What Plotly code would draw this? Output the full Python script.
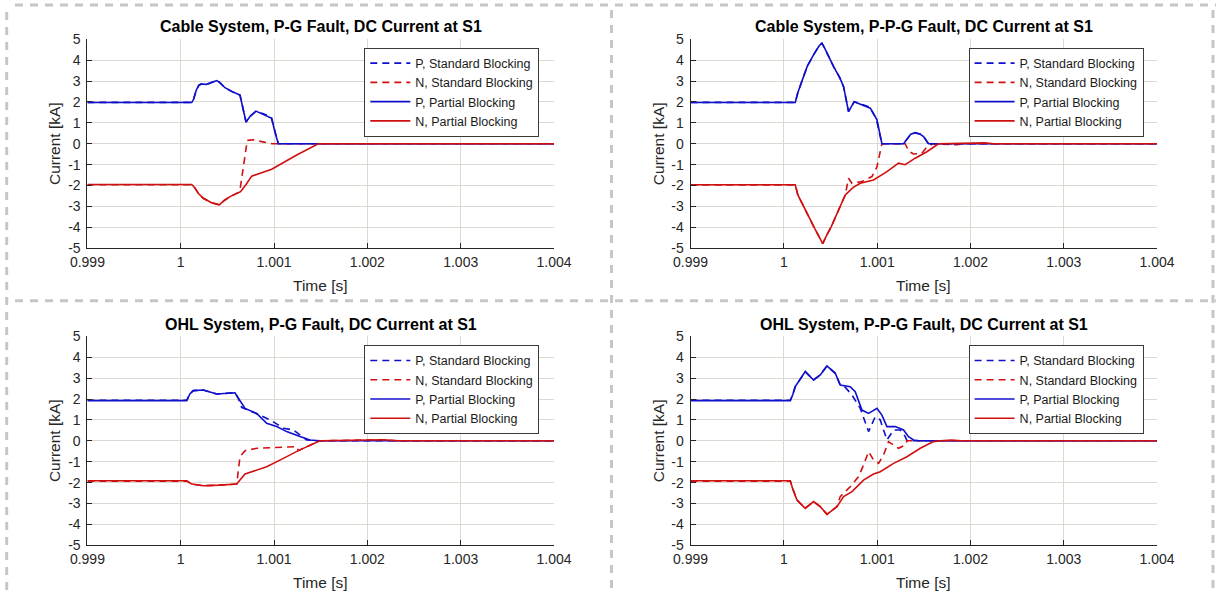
import plotly.graph_objects as go

W, H = 1216, 594

# ---------------- data ----------------
x_ticks = [0.999, 1.000, 1.001, 1.002, 1.003, 1.004]
x_tick_labels = ["0.999", "1", "1.001", "1.002", "1.003", "1.004"]
y_ticks = [-5, -4, -3, -2, -1, 0, 1, 2, 3, 4, 5]
y_tick_labels = ["-5", "-4", "-3", "-2", "-1", "0", "1", "2", "3", "4", "5"]

titles = ["Cable System, P-G Fault, DC Current at S1",
          "Cable System, P-P-G Fault, DC Current at S1",
          "OHL System, P-G Fault, DC Current at S1",
          "OHL System, P-P-G Fault, DC Current at S1"]
series_names = ["P, Standard Blocking", "N, Standard Blocking",
                "P, Partial Blocking", "N, Partial Blocking"]

# Panel 1: Cable, P-G
c1_p_part_t = [0.999, 1.000118, 1.000140, 1.000165, 1.000195, 1.000220, 1.000278, 1.000330, 1.000386,
               1.000420, 1.000474, 1.000560, 1.000635, 1.000700, 1.000750, 1.000806, 1.000885, 1.000975,
               1.001010, 1.001046, 1.004]
c1_p_part_i = [1.97, 1.97, 2.15, 2.55, 2.80, 2.86, 2.84, 2.93, 3.02, 2.92, 2.68, 2.47, 2.33, 1.04, 1.35,
               1.56, 1.40, 1.22, 0.55, 0.0, 0.0]
c1_p_std_t = [0.999, 1.000118, 1.000140, 1.000165, 1.000195, 1.000220, 1.000278, 1.000330, 1.000386,
              1.000420, 1.000474, 1.000560, 1.000635, 1.000700, 1.000750, 1.000800, 1.000880, 1.000970,
              1.001010, 1.001046, 1.004]
c1_p_std_i = [1.98, 1.98, 2.15, 2.55, 2.80, 2.86, 2.84, 2.93, 3.02, 2.92, 2.68, 2.47, 2.33, 1.04, 1.33,
              1.52, 1.45, 1.26, 0.55, 0.0, 0.0]
c1_n_part_t = [0.999, 1.000118, 1.000150, 1.000190, 1.000242, 1.000330, 1.000413, 1.000470, 1.000528,
               1.000642, 1.000700, 1.000760, 1.000975, 1.001243, 1.001474, 1.004]
c1_n_part_i = [-1.95, -1.95, -2.10, -2.38, -2.61, -2.82, -2.92, -2.70, -2.53, -2.29, -1.95, -1.55,
               -1.22, -0.54, 0.0, 0.0]
c1_n_std_t = [0.999, 1.000118, 1.000150, 1.000190, 1.000242, 1.000330, 1.000413, 1.000470, 1.000528,
              1.000632, 1.000713, 1.000780, 1.000880, 1.000980, 1.004]
c1_n_std_i = [-1.96, -1.96, -2.10, -2.38, -2.61, -2.82, -2.92, -2.70, -2.53, -2.30, 0.16, 0.19, 0.09,
              0.0, 0.0]

# Panel 2: Cable, P-P-G
c2_p_part_t = [0.999, 1.000122, 1.000150, 1.000194, 1.000250, 1.000318, 1.000380, 1.000408, 1.000440,
               1.000533, 1.000600, 1.000640, 1.000693, 1.000754, 1.000926, 1.000998, 1.001051, 1.001283,
               1.001320, 1.001360, 1.001408, 1.001460, 1.001497, 1.001550, 1.004]
c2_p_part_i = [1.97, 1.97, 2.45, 2.97, 3.70, 4.25, 4.70, 4.81, 4.55, 3.69, 3.15, 2.73, 1.54, 2.01, 1.70,
               1.14, 0.0, 0.0, 0.25, 0.46, 0.53, 0.46, 0.34, 0.0, 0.0]
c2_p_std_t = [0.999, 1.000122, 1.000150, 1.000194, 1.000250, 1.000318, 1.000380, 1.000408, 1.000440,
              1.000533, 1.000600, 1.000640, 1.000693, 1.000754, 1.000920, 1.000990, 1.001051, 1.001283,
              1.001320, 1.001360, 1.001408, 1.001460, 1.001497, 1.001550, 1.004]
c2_p_std_i = [1.98, 1.98, 2.45, 2.97, 3.70, 4.25, 4.70, 4.81, 4.55, 3.69, 3.15, 2.73, 1.54, 2.01, 1.76,
              1.20, 0.0, 0.0, 0.24, 0.45, 0.52, 0.47, 0.36, 0.0, 0.0]
c2_n_part_t = [0.999, 1.000122, 1.000150, 1.000229, 1.000330, 1.000417, 1.000450, 1.000508, 1.000613,
               1.000658, 1.000740, 1.000819, 1.000961, 1.001105, 1.001229, 1.001300, 1.001408, 1.001533,
               1.001658, 1.002150, 1.002250, 1.004]
c2_n_part_i = [-1.96, -1.96, -2.45, -3.17, -4.05, -4.78, -4.45, -3.96, -2.84, -2.45, -2.10, -1.89,
               -1.73, -1.33, -0.93, -1.00, -0.69, -0.38, 0.0, 0.04, 0.0, 0.0]
c2_n_std_t = [0.999, 1.000122, 1.000150, 1.000229, 1.000330, 1.000417, 1.000450, 1.000508, 1.000613,
              1.000658, 1.000693, 1.000729, 1.000837, 1.000944, 1.000998, 1.001033, 1.001051, 1.001300,
              1.001340, 1.001390, 1.001480, 1.001533, 1.001600, 1.001850, 1.001950, 1.004]
c2_n_std_i = [-1.97, -1.97, -2.45, -3.17, -4.05, -4.78, -4.45, -3.96, -2.84, -2.45, -1.65, -1.89, -1.81,
              -1.57, -1.10, -0.38, 0.0, 0.0, -0.36, -0.49, -0.46, -0.14, 0.0, -0.05, 0.0, 0.0]

# Panel 3: OHL, P-G
o1_p_part_t = [0.999, 1.000064, 1.000100, 1.000135, 1.000242, 1.000385, 1.000581, 1.000617, 1.000689,
               1.000814, 1.000921, 1.001028, 1.001135, 1.001278, 1.001385, 1.001492, 1.004]
o1_p_part_i = [1.92, 1.92, 2.25, 2.40, 2.43, 2.24, 2.30, 2.03, 1.55, 1.31, 0.84, 0.68, 0.44, 0.20, 0.04,
               0.0, 0.0]
o1_p_std_t = [0.999, 1.000064, 1.000100, 1.000135, 1.000242, 1.000385, 1.000581, 1.000617, 1.000653,
              1.000742, 1.000849, 1.000975, 1.001100, 1.001206, 1.001296, 1.001350, 1.001450, 1.004]
o1_p_std_i = [1.94, 1.94, 2.25, 2.40, 2.43, 2.24, 2.30, 2.03, 1.60, 1.44, 1.23, 0.96, 0.60, 0.52, 0.23,
              0.04, 0.0, 0.0]
o1_n_part_t = [0.999, 1.000064, 1.000118, 1.000242, 1.000421, 1.000600, 1.000689, 1.000921, 1.001100,
               1.001260, 1.001492, 1.002050, 1.002180, 1.002320, 1.004]
o1_n_part_i = [-1.91, -1.91, -2.07, -2.15, -2.12, -2.07, -1.59, -1.24, -0.84, -0.47, 0.0, 0.04, 0.05,
               0.0, 0.0]
o1_n_std_t = [0.999, 1.000064, 1.000118, 1.000242, 1.000421, 1.000600, 1.000635, 1.000689, 1.000814,
              1.001028, 1.001243, 1.001260, 1.001492, 1.002050, 1.002180, 1.002320, 1.004]
o1_n_std_i = [-1.93, -1.93, -2.07, -2.15, -2.12, -2.07, -0.76, -0.47, -0.36, -0.31, -0.28, -0.47, 0.0,
              0.04, 0.05, 0.0, 0.0]

# Panel 4: OHL, P-P-G
o2_p_part_t = [0.999, 1.000069, 1.000095, 1.000122, 1.000229, 1.000318, 1.000390, 1.000462, 1.000551,
               1.000604, 1.000711, 1.000765, 1.000837, 1.000908, 1.000998, 1.001051, 1.001105, 1.001194,
               1.001283, 1.001336, 1.001390, 1.001450, 1.004]
o2_p_part_i = [1.92, 1.92, 2.20, 2.59, 3.31, 2.91, 3.15, 3.58, 3.23, 2.67, 2.59, 2.35, 1.47, 1.31, 1.55,
               1.23, 0.68, 0.68, 0.52, 0.20, 0.04, 0.0, 0.0]
o2_p_std_t = [0.999, 1.000069, 1.000095, 1.000122, 1.000229, 1.000318, 1.000390, 1.000462, 1.000551,
              1.000604, 1.000660, 1.000730, 1.000819, 1.000908, 1.000979, 1.001033, 1.001105, 1.001176,
              1.001247, 1.001301, 1.001320, 1.004]
o2_p_std_i = [1.94, 1.94, 2.20, 2.59, 3.31, 2.91, 3.15, 3.58, 3.23, 2.67, 2.55, 2.19, 1.55, 0.44, 1.15,
              1.00, 0.04, 0.52, 0.52, 0.20, 0.0, 0.0]
o2_n_part_t = [0.999, 1.000069, 1.000095, 1.000140, 1.000229, 1.000318, 1.000390, 1.000462, 1.000569,
               1.000640, 1.000730, 1.000854, 1.000961, 1.001033, 1.001176, 1.001319, 1.001462, 1.001604,
               1.001676, 1.001800, 1.001900, 1.004]
o2_n_part_i = [-1.91, -1.91, -2.30, -2.83, -3.23, -2.91, -3.15, -3.52, -3.15, -2.67, -2.43, -1.88,
               -1.59, -1.48, -1.08, -0.76, -0.36, -0.04, 0.0, 0.03, 0.0, 0.0]
o2_n_std_t = [0.999, 1.000069, 1.000095, 1.000140, 1.000229, 1.000318, 1.000390, 1.000462, 1.000569,
              1.000604, 1.000711, 1.000800, 1.000854, 1.000908, 1.000961, 1.001015, 1.001068, 1.001122,
              1.001176, 1.001229, 1.001301, 1.001320, 1.004]
o2_n_std_i = [-1.93, -1.93, -2.30, -2.83, -3.23, -2.91, -3.15, -3.52, -3.15, -2.67, -2.20, -1.72, -1.16,
              -0.52, -0.92, -1.08, -0.68, -0.04, -0.20, -0.36, -0.20, 0.0, 0.0]

panels = [
    [(c1_p_std_t, c1_p_std_i), (c1_n_std_t, c1_n_std_i), (c1_p_part_t, c1_p_part_i), (c1_n_part_t, c1_n_part_i)],
    [(c2_p_std_t, c2_p_std_i), (c2_n_std_t, c2_n_std_i), (c2_p_part_t, c2_p_part_i), (c2_n_part_t, c2_n_part_i)],
    [(o1_p_std_t, o1_p_std_i), (o1_n_std_t, o1_n_std_i), (o1_p_part_t, o1_p_part_i), (o1_n_part_t, o1_n_part_i)],
    [(o2_p_std_t, o2_p_std_i), (o2_n_std_t, o2_n_std_i), (o2_p_part_t, o2_p_part_i), (o2_n_part_t, o2_n_part_i)],
]

# ---------------- styling / layout ----------------
BLUE = "#1010cc"
RED = "#d01010"
colors = [BLUE, RED, BLUE, RED]
dashes = ["7px,5px", "7px,5px", "solid", "solid"]
FONT = "Liberation Sans, Arial, Helvetica, sans-serif"
AX = "#262626"
GRID = "#dcd9d2"

def px_x(p):
    return p / W

def px_y(p):
    return 1 - p / H

col_dom = [(87.4, 554.0), (690.6, 1157.0)]
row_dom = [(39.2, 248.3), (336.3, 545.3)]

fig = go.Figure()
layout = dict(
    width=W, height=H, paper_bgcolor="white", plot_bgcolor="white",
    margin=dict(l=0, r=0, t=0, b=0, pad=0, autoexpand=False),
    font=dict(family=FONT, color=AX),
    showlegend=True, annotations=[], shapes=[],
)

for k in range(4):
    r, c = divmod(k, 2)
    xa = "x" if k == 0 else f"x{k+1}"
    ya = "y" if k == 0 else f"y{k+1}"
    lg = "legend" if k == 0 else f"legend{k+1}"
    for j in range(4):
        t, i = panels[k][j]
        fig.add_trace(go.Scatter(
            x=t, y=i, mode="lines", name=series_names[j], xaxis=xa, yaxis=ya, legend=lg,
            line=dict(color=colors[j], width=1.6, dash=dashes[j]),
        ))
    x0, x1 = col_dom[c]
    y0, y1 = row_dom[r]
    xkey = "xaxis" if k == 0 else f"xaxis{k+1}"
    ykey = "yaxis" if k == 0 else f"yaxis{k+1}"
    layout[xkey] = dict(
        domain=[px_x(x0), px_x(x1)], anchor=ya, range=[0.999, 1.004],
        tickmode="array", tickvals=x_ticks, ticktext=x_tick_labels,
        ticks="inside", ticklen=5, tickcolor=AX, showline=True, linecolor=AX, linewidth=1,
        showgrid=True, gridcolor=GRID, gridwidth=1, zeroline=False, automargin=False,
        tickfont=dict(size=14, color=AX, family=FONT), ticklabelstandoff=1,
    )
    layout[ykey] = dict(
        domain=[px_y(y1), px_y(y0)], anchor=xa, range=[-5, 5],
        tickmode="array", tickvals=y_ticks, ticktext=y_tick_labels,
        ticks="inside", ticklen=5, tickcolor=AX, showline=True, linecolor=AX, linewidth=1,
        showgrid=True, gridcolor=GRID, gridwidth=1, zeroline=False, automargin=False,
        tickfont=dict(size=14, color=AX, family=FONT), ticklabelstandoff=3,
    )
    # legend
    lx = 364.3 if c == 0 else 968.6
    ly = 47.5 + r * 297.4
    layout[lg] = dict(
        x=px_x(lx), y=px_y(ly), xanchor="left", yanchor="top",
        bgcolor="white", bordercolor="#3a3a3a", borderwidth=1,
        font=dict(size=12.5, color="#1a1a1a", family=FONT), itemwidth=40,
        traceorder="normal", tracegroupgap=0,
    )
    # title
    yoff = r * 297.3
    layout["annotations"].append(dict(
        text=f"<b>{titles[k]}</b>", xref="paper", yref="paper",
        x=px_x((x0 + x1) / 2), y=px_y(26.7 + yoff), xanchor="center", yanchor="middle",
        showarrow=False, font=dict(size=16, color="black", family=FONT)))
    layout["annotations"].append(dict(
        text="Time [s]", xref="paper", yref="paper",
        x=px_x((x0 + x1) / 2), y=px_y(285 + yoff), xanchor="center", yanchor="middle",
        showarrow=False, font=dict(size=15.5, color=AX, family=FONT)))
    ylab_x = 54.3 if c == 0 else 658.4
    layout["annotations"].append(dict(
        text="Current [kA]", xref="paper", yref="paper", textangle=-90,
        x=px_x(ylab_x), y=px_y((y0 + y1) / 2), xanchor="center", yanchor="middle",
        showarrow=False, font=dict(size=15.5, color=AX, family=FONT)))

# dashed frame lines
dash_line = dict(color="#c6c6c6", width=3, dash="8px,7px")
for (xa0, ya0, xa1, ya1) in [(15, 5, 1216, 5), (15, 300.7, 1216, 300.7),
                             (6.7, 12, 6.7, 594), (611.5, 10, 611.5, 594), (1213, 10, 1213, 594)]:
    layout["shapes"].append(dict(type="line", xref="paper", yref="paper",
                                 x0=px_x(xa0), y0=px_y(ya0), x1=px_x(xa1), y1=px_y(ya1),
                                 line=dash_line, layer="above"))

fig.update_layout(**layout)
fig.write_html("out.html", config={"displayModeBar": False},
               post_script="document.body.style.margin='0px';document.body.style.overflow='hidden';")
